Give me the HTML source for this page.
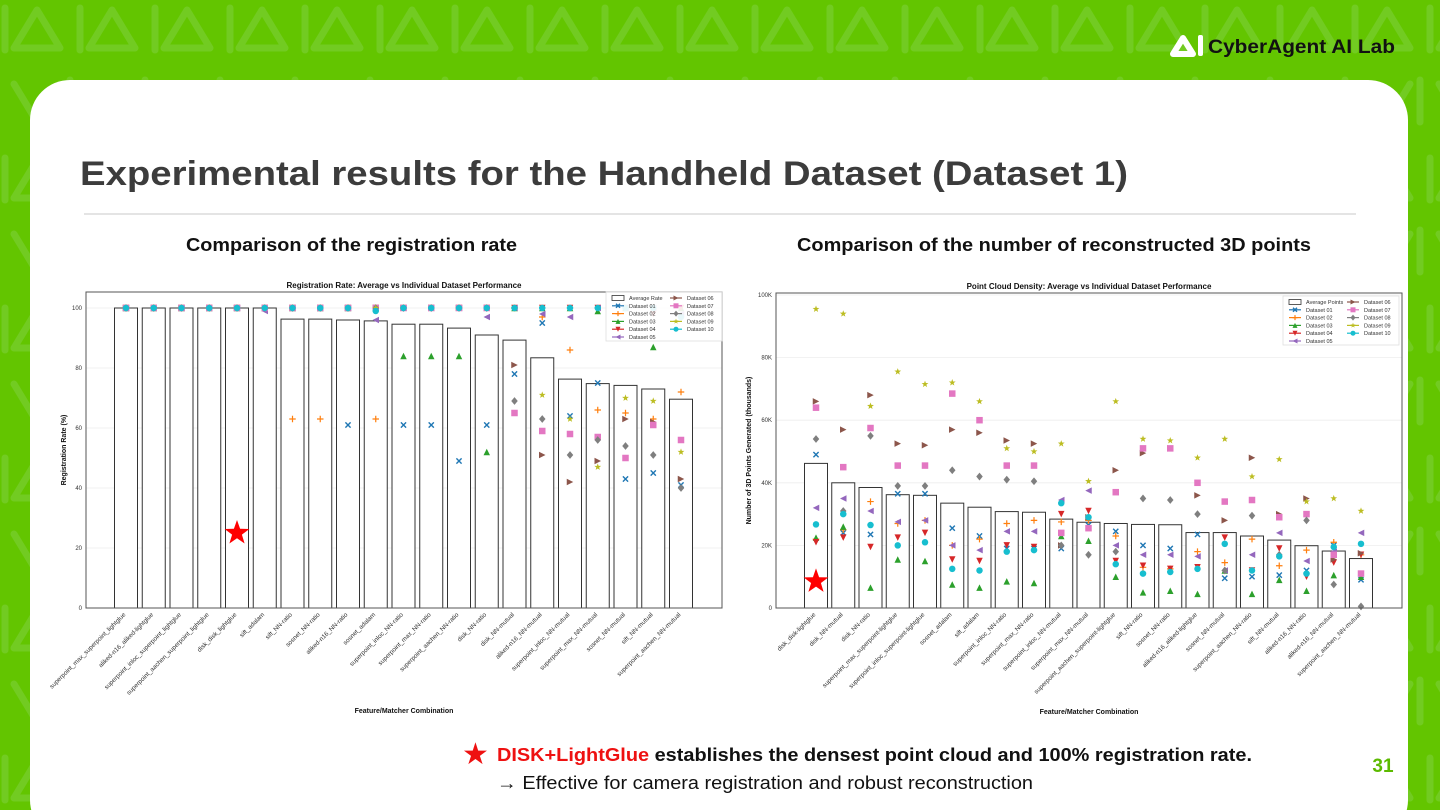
<!DOCTYPE html>
<html><head><meta charset="utf-8"><title>Experimental results</title>
<style>
html,body{margin:0;padding:0;background:#63c500;width:1440px;height:810px;overflow:hidden;}
svg{display:block;font-family:"Liberation Sans",Arial,sans-serif;}
</style></head>
<body>
<svg id="page" width="1440" height="810" viewBox="0 0 1440 810" xmlns="http://www.w3.org/2000/svg">
<defs>
<pattern id="bgpat" x="0" y="0" width="75" height="150" patternUnits="userSpaceOnUse">
 <path d="M37 10 L60 48 L14 48 Z" fill="none" stroke="#72cb22" stroke-width="7" stroke-linejoin="round"/>
 <line x1="5" y1="8" x2="5" y2="50" stroke="#72cb22" stroke-width="7" stroke-linecap="round"/>
 <path d="M14 84 L37 122 L60 84" fill="none" stroke="#72cb22" stroke-width="7" stroke-linejoin="round" stroke-linecap="round"/>
 <line x1="70" y1="80" x2="70" y2="122" stroke="#72cb22" stroke-width="7" stroke-linecap="round"/>
</pattern>
</defs>
<rect x="0" y="0" width="1440" height="810" fill="#63c500"/>
<rect x="0" y="0" width="1440" height="810" fill="url(#bgpat)"/>
<g>
 <path d="M1183 38 L1193 54 L1173 54 Z" fill="none" stroke="#fff" stroke-width="6" stroke-linejoin="round"/>
 <rect x="1198" y="35" width="5" height="21" rx="2" fill="#fff"/>
 <text x="1208" y="53" font-size="19" font-weight="bold" fill="#111" textLength="187" lengthAdjust="spacingAndGlyphs">CyberAgent AI Lab</text>
</g>
<rect x="30" y="80" width="1378" height="760" rx="40" fill="#ffffff"/>
<text x="80" y="185" font-size="34" font-weight="bold" fill="#3c3c3c" textLength="1048" lengthAdjust="spacingAndGlyphs">Experimental results for the Handheld Dataset (Dataset 1)</text>
<line x1="84" y1="214" x2="1356" y2="214" stroke="#dcdcdc" stroke-width="1.5"/>
<text x="186" y="251" font-size="18" font-weight="bold" fill="#111" textLength="331" lengthAdjust="spacingAndGlyphs">Comparison of the registration rate</text>
<text x="797" y="251" font-size="18" font-weight="bold" fill="#111" textLength="514" lengthAdjust="spacingAndGlyphs">Comparison of the number of reconstructed 3D points</text>
<g id="chartL"></g>
<g id="chartR"></g>
<g>
 <text x="462" y="764" font-size="30" fill="#ee1111">★</text>
 <text x="497" y="761" font-size="18" font-weight="bold" textLength="755" lengthAdjust="spacingAndGlyphs"><tspan fill="#ee1111">DISK+LightGlue</tspan><tspan fill="#111"> establishes the densest point cloud and 100% registration rate.</tspan></text>
 <text x="497" y="789" font-size="18" fill="#111" textLength="536" lengthAdjust="spacingAndGlyphs">→ Effective for camera registration and robust reconstruction</text>
</g>
<text x="1383" y="772" font-size="19" font-weight="bold" fill="#5cba00" text-anchor="middle">31</text>
</svg>
<script>
const NS="http://www.w3.org/2000/svg";
const colors=["#1f77b4","#ff7f0e","#2ca02c","#d62728","#9467bd","#8c564b","#e377c2","#7f7f7f","#bcbd22","#17becf"];
const markers=["x","+","^","v","<",">","s","D","*","o"];
const datasetNames=["Dataset 01","Dataset 02","Dataset 03","Dataset 04","Dataset 05","Dataset 06","Dataset 07","Dataset 08","Dataset 09","Dataset 10"];

// ---- Left chart data ----
const leftCategories=["superpoint_max_superpoint_lightglue","aliked-n16_aliked-lightglue","superpoint_inloc_superpoint_lightglue","superpoint_aachen_superpoint_lightglue","disk_disk_lightglue","sift_adalam","sift_NN-ratio","sosnet_NN-ratio","aliked-n16_NN-ratio","sosnet_adalam","superpoint_inloc_NN-ratio","superpoint_max_NN-ratio","superpoint_aachen_NN-ratio","disk_NN-ratio","disk_NN-mutual","aliked-n16_NN-mutual","superpoint_inloc_NN-mutual","superpoint_max_NN-mutual","sosnet_NN-mutual","sift_NN-mutual","superpoint_aachen_NN-mutual"];
const leftAverage=[100,100,100,100,100,100,96.3,96.3,96,95.7,94.6,94.6,93.3,91,89.3,83.4,76.3,74.8,74.2,73,69.6];
const leftD01=[100,100,100,100,100,100,100,100,61,100,61,61,49,61,78,95,64,75,43,45,41];
const leftD02=[100,100,100,100,100,100,63,63,100,63,100,100,100,100,100,97,86,66,65,63,72];
const leftD03=[100,100,100,100,100,100,100,100,100,100,84,84,84,52,100,100,100,99,100,87,100];
const leftD04=[100,100,100,100,100,100,100,100,100,100,100,100,100,100,100,100,100,100,100,98,100];
const leftD05=[100,100,100,100,100,99,100,100,100,96,100,100,100,97,100,98,97,100,100,100,98];
const leftD06=[100,100,100,100,100,100,100,100,100,100,100,100,100,100,81,51,42,49,63,62,43];
const leftD07=[100,100,100,100,100,100,100,100,100,100,100,100,100,100,65,59,58,57,50,61,56];
const leftD08=[100,100,100,100,100,100,100,100,100,100,100,100,100,100,69,63,51,56,54,51,40];
const leftD09=[100,100,100,100,100,100,100,100,100,100,100,100,100,100,100,71,63,47,70,69,52];
const leftD10=[100,100,100,100,100,100,100,100,100,99,100,100,100,100,100,100,100,100,100,100,97];
const leftYTicks=[0,20,40,60,80,100];
const leftYTickLabels=["0","20","40","60","80","100"];

// ---- Right chart data ----
const rightCategories=["disk_disk-lightglue","disk_NN-mutual","disk_NN-ratio","superpoint_max_superpoint-lightglue","superpoint_inloc_superpoint-lightglue","sosnet_adalam","sift_adalam","superpoint_inloc_NN-ratio","superpoint_max_NN-ratio","superpoint_inloc_NN-mutual","superpoint_max_NN-mutual","superpoint_aachen_superpoint-lightglue","sift_NN-ratio","sosnet_NN-ratio","aliked-n16_aliked-lightglue","sosnet_NN-mutual","superpoint_aachen_NN-ratio","sift_NN-mutual","aliked-n16_NN-ratio","aliked-n16_NN-mutual","superpoint_aachen_NN-mutual"];
const rightAverage=[46.2,40,38.5,36.2,36,33.5,32.2,30.8,30.6,28.4,27.4,27,26.7,26.6,24.1,24.1,23,21.7,19.9,18.2,15.8];
const rightD01=[49,24,23.5,36.5,36.5,25.5,23,19,19,19,26.5,24.5,20,19,23.5,9.5,10,10.5,12,20,9];
const rightD02=[22,25,34,27,28,20,22,27,28,27.5,28,23,13,12.5,18,14.5,22,13.5,18.5,21,17];
const rightD03=[22.5,26,6.5,15.5,15,7.5,6.5,8.5,8,23,21.5,10,5,5.5,4.5,12,4.5,9,5.5,10.5,10];
const rightD04=[21,22.5,19.5,22.5,24,15.5,15,20,19.5,30,31,15,13.5,12.5,13,22.5,12,19,10,14.5,17];
const rightD05=[32,35,31,27.5,28,20,18.5,24.5,24.5,34.5,37.5,20,17,17,16.5,12,17,24,15,18,24];
const rightD06=[66,57,68,52.5,52,57,56,53.5,52.5,20,29,44,49.5,51,36,28,48,30,35,15.5,17.5];
const rightD07=[64,45,57.5,45.5,45.5,68.5,60,45.5,45.5,24,25.5,37,51,51,40,34,34.5,29,30,17,11];
const rightD08=[54,31,55,39,39,44,42,41,40.5,20,17,18,35,34.5,30,12,29.5,17,28,7.5,0.5];
const rightD09=[95.5,94,64.5,75.5,71.5,72,66,51,50,52.5,40.5,66,54,53.5,48,54,42,47.5,34,35,31];
const rightD10=[26.7,30,26.5,20,21,12.5,12,18,18.5,33.5,29,14,11,11.5,12.5,20.5,12,16.5,11,19.5,20.5];
const rightYTicks=[0,20,40,60,80,100];
const rightYTickLabels=["0","20K","40K","60K","80K","100K"];

const leftSeries=[leftD01,leftD02,leftD03,leftD04,leftD05,leftD06,leftD07,leftD08,leftD09,leftD10];
const rightSeries=[rightD01,rightD02,rightD03,rightD04,rightD05,rightD06,rightD07,rightD08,rightD09,rightD10];

function el(tag,attrs,parent){const e=document.createElementNS(NS,tag);for(const k in attrs)e.setAttribute(k,attrs[k]);if(parent)parent.appendChild(e);return e;}

function marker(g,type,x,y,c,s){
 let e;
 const h=s/2;
 if(type==="o"){e=el("circle",{cx:x,cy:y,r:h,fill:c},g);}
 else if(type==="s"){e=el("rect",{x:x-h,y:y-h,width:s,height:s,fill:c},g);}
 else if(type==="D"){e=el("polygon",{points:`${x},${y-h*1.2} ${x+h},${y} ${x},${y+h*1.2} ${x-h},${y}`,fill:c},g);}
 else if(type==="^"){e=el("polygon",{points:`${x},${y-h} ${x+h},${y+h} ${x-h},${y+h}`,fill:c},g);}
 else if(type==="v"){e=el("polygon",{points:`${x},${y+h} ${x+h},${y-h} ${x-h},${y-h}`,fill:c},g);}
 else if(type==="<"){e=el("polygon",{points:`${x-h},${y} ${x+h},${y-h} ${x+h},${y+h}`,fill:c},g);}
 else if(type===">"){e=el("polygon",{points:`${x+h},${y} ${x-h},${y-h} ${x-h},${y+h}`,fill:c},g);}
 else if(type==="x"){e=el("path",{d:`M${x-h*0.8} ${y-h*0.8}L${x+h*0.8} ${y+h*0.8}M${x-h*0.8} ${y+h*0.8}L${x+h*0.8} ${y-h*0.8}`,stroke:c,"stroke-width":1.4,fill:"none"},g);}
 else if(type==="+"){e=el("path",{d:`M${x-h} ${y}L${x+h} ${y}M${x} ${y-h}L${x} ${y+h}`,stroke:c,"stroke-width":1.2,fill:"none"},g);}
 else if(type==="*"){let p=[];for(let i=0;i<10;i++){const r=i%2?h*0.45:h*1.1;const a=-Math.PI/2+i*Math.PI/5;p.push((x+r*Math.cos(a)).toFixed(2)+","+(y+r*Math.sin(a)).toFixed(2));}e=el("polygon",{points:p.join(" "),fill:c},g);}
 return e;
}

function starPath(cx,cy,R){let p=[];for(let i=0;i<10;i++){const r=i%2?R*0.4:R;const a=-Math.PI/2+i*Math.PI/5;p.push((cx+r*Math.cos(a)).toFixed(1)+","+(cy+r*Math.sin(a)).toFixed(1));}return p.join(" ");}

function drawChart(cfg){
 const g=document.getElementById(cfg.id);
 el("rect",{x:cfg.fx,y:cfg.fy,width:cfg.fw,height:cfg.fh,fill:"#fff"},g);
 const L=cfg.left,R=cfg.right,T=cfg.top,B=cfg.bottom;
 const yScale=v=>B-(v-cfg.ymin)/(cfg.ymax-cfg.ymin)*(B-cfg.y100);
 const xScale=i=>cfg.x0+i*cfg.step;
 cfg.yticks.forEach((t,i)=>{
  const y=yScale(t);
  const gl=el("line",{x1:L,x2:R,y1:y,y2:y,stroke:"#eeeeee","stroke-width":0.8},g);
  
  
  const tx=el("text",{x:L-4,y:y+2,"font-size":6,"text-anchor":"end",fill:"#333"},g);
  tx.textContent=cfg.yticklabels[i];
  
  
 });
 cfg.avg.forEach((v,i)=>{
  const x=xScale(i),y=yScale(v);
  const b=el("rect",{x:x-cfg.bw/2,y:y,width:cfg.bw,height:B-y,fill:"#fff",stroke:"#333","stroke-width":1},g);
  
  
 });
 cfg.series.forEach((arr,si)=>{
  arr.forEach((v,i)=>{
   const m=marker(g,markers[si],xScale(i),yScale(v),colors[si],6.5);
   
   
  });
 });
 el("rect",{x:L,y:T,width:R-L,height:B-T,fill:"none",stroke:"#555","stroke-width":1},g);
 cfg.categories.forEach((c,i)=>{
  const x=xScale(i);
  const t=el("text",{x:x,y:B+7,"font-size":6.3,"text-anchor":"end",fill:"#333",transform:`rotate(-45 ${x} ${B+7})`},g);
  t.textContent=c;
  
  
 });
 const tt=el("text",{x:(L+R)/2,y:T-4,"font-size":8,"font-weight":"bold","text-anchor":"middle",fill:"#111"},g);
 tt.textContent=cfg.title;
 
 
 const xl=el("text",{x:(L+R)/2,y:cfg.xlabelY,"font-size":7,"font-weight":"bold","text-anchor":"middle",fill:"#111"},g);
 xl.textContent="Feature/Matcher Combination";
 
 
 const yl=el("text",{x:cfg.ylabelX,y:(T+B)/2,"font-size":7,"font-weight":"bold","text-anchor":"middle",fill:"#111",transform:`rotate(-90 ${cfg.ylabelX} ${(T+B)/2})`},g);
 yl.textContent=cfg.ylabel;
 
 
 const lg=el("g",{},g);
 
 
 el("rect",{x:cfg.lx,y:cfg.ly,width:116,height:49,fill:"#fff",stroke:"#ddd","stroke-width":0.8,opacity:0.9},lg);
 const items=[{name:cfg.avgName,type:"bar"}].concat(datasetNames.map((d,i)=>({name:d,type:i})));
 items.forEach((it,k)=>{
  const col=k<6?0:1;const row=k<6?k:k-6;
  const ix=cfg.lx+6+col*58, iy=cfg.ly+6+row*7.8;
  const ent=el("g",{},lg);
  
  
  if(it.type==="bar"){el("rect",{x:ix,y:iy-2.5,width:12,height:5,fill:"#fff",stroke:"#333","stroke-width":0.8},ent);}
  else{el("line",{x1:ix,x2:ix+12,y1:iy,y2:iy,stroke:colors[it.type],"stroke-width":1.2},ent);marker(ent,markers[it.type],ix+6,iy,colors[it.type],5);}
  const t=el("text",{x:ix+17,y:iy+2,"font-size":5.5,fill:"#333"},ent);
  t.textContent=it.name;
 });
 const st=el("polygon",{points:starPath(xScale(cfg.starIdx),yScale(cfg.starVal),13),fill:"#ff0000"},g);
 
 
}

drawChart({id:"chartL",fx:44,fy:272,fw:682,fh:448,left:86,right:722,top:292,bottom:608,y100:308,ymin:0,ymax:100,
 x0:126,step:27.75,bw:23,categories:leftCategories,avg:leftAverage,series:leftSeries,yticks:leftYTicks,yticklabels:leftYTickLabels,
 title:"Registration Rate: Average vs Individual Dataset Performance",ylabel:"Registration Rate (%)",ylabelX:66,xlabelY:713,
 lx:606,ly:292,avgName:"Average Rate",starIdx:4,starVal:25});
drawChart({id:"chartR",fx:742,fy:277,fw:662,fh:443,left:776,right:1402,top:293,bottom:608,y100:295,ymin:0,ymax:100,
 x0:816,step:27.25,bw:23,categories:rightCategories,avg:rightAverage,series:rightSeries,yticks:rightYTicks,yticklabels:rightYTickLabels,
 title:"Point Cloud Density: Average vs Individual Dataset Performance",ylabel:"Number of 3D Points Generated (thousands)",ylabelX:751,xlabelY:714,
 lx:1283,ly:296,avgName:"Average Points",starIdx:0,starVal:8.5});
</script>
</body></html>
